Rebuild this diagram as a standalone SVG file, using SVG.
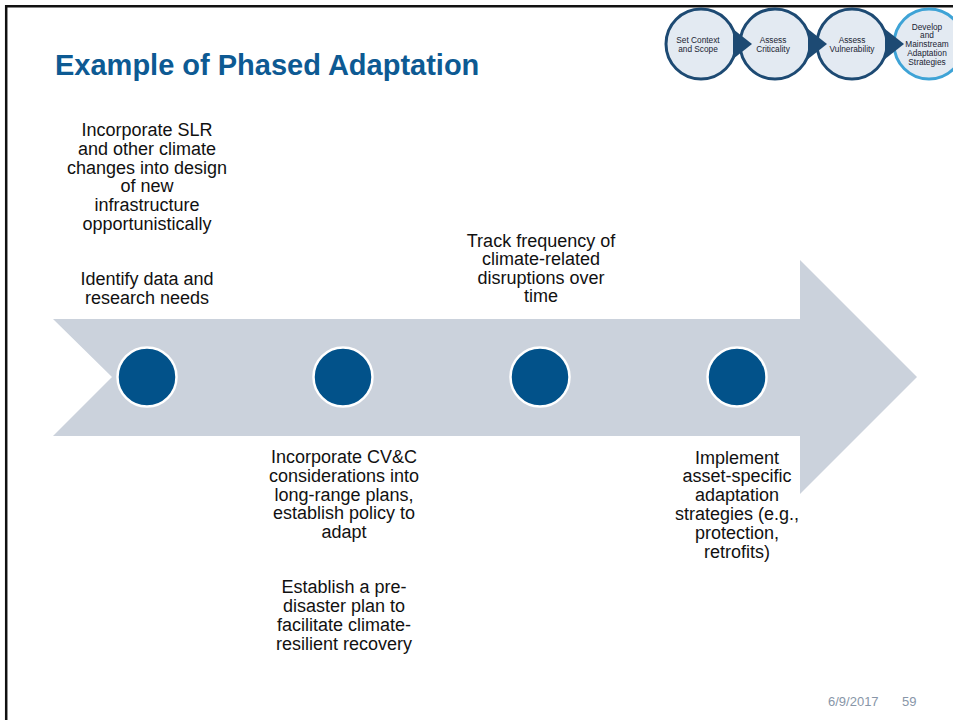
<svg xmlns="http://www.w3.org/2000/svg" width="953" height="720" viewBox="0 0 953 720">
<style>
.body{font-family:"Liberation Sans",Arial,sans-serif;font-size:18px;fill:#111;text-anchor:middle}
.title{font-family:"Liberation Sans",Arial,sans-serif;font-size:29px;font-weight:bold;fill:#0D5A93}
.hc{fill:#E3EAF2;stroke:#1D4A73;stroke-width:3}
.hc4{fill:#E3EAF2;stroke:#3EA3D6;stroke-width:3}
.ht{font-family:"Liberation Sans",Arial,sans-serif;font-size:8.3px;fill:#1a2433;text-anchor:middle}
.dot{fill:#02528A;stroke:#fff;stroke-width:2.5}
.chev{fill:#1D4A73}
.foot{font-family:"Liberation Sans",Arial,sans-serif;font-size:13px;fill:#8896A8}
</style>
<rect x="0" y="0" width="953" height="720" fill="#fff"/>
<path d="M6.2,720 V6.2 H953" fill="none" stroke="#111" stroke-width="2.5"/>
<text class="title" x="55" y="75">Example of Phased Adaptation</text>

<g id="header">
  <g id="step1"><circle class="hc" cx="701" cy="44" r="35"/><text class="ht" x="698" y="43">Set Context</text><text class="ht" x="698" y="51.5">and Scope</text></g>
  <g id="step2"><circle class="hc" cx="775" cy="44" r="35"/><text class="ht" x="773" y="43">Assess</text><text class="ht" x="773" y="51.5">Criticality</text></g>
  <g id="step3"><circle class="hc" cx="852" cy="44" r="35"/><text class="ht" x="852" y="43">Assess</text><text class="ht" x="852" y="51.5">Vulnerability</text></g>
  <g id="step4"><circle class="hc4" cx="929" cy="44" r="35"/><text class="ht" x="927" y="29.5">Develop</text><text class="ht" x="927" y="38.3">and</text><text class="ht" x="927" y="47">Mainstream</text><text class="ht" x="927" y="55.8">Adaptation</text><text class="ht" x="927" y="64.6">Strategies</text></g>
</g>
<g id="connectors">
  <polygon class="chev" points="733,29 752,44 733,59"/>
  <polygon class="chev" points="808,29 827,44 808,59"/>
  <polygon class="chev" points="885,29 904,44 885,59"/>
</g>

<g id="timeline">
  <polygon points="53,319 800,319 800,260 917,377 800,494 800,436 53,436 112,377" fill="#CBD2DC"/>
</g>

<g id="phase1">
  <circle class="dot" cx="147" cy="377" r="29.5"/>
  <text class="body"><tspan x="147" y="136">Incorporate SLR</tspan><tspan x="147" y="154.8">and other climate</tspan><tspan x="147" y="173.6">changes into design</tspan><tspan x="147" y="192.4">of new</tspan><tspan x="147" y="211.2">infrastructure</tspan><tspan x="147" y="230">opportunistically</tspan></text>
  <text class="body"><tspan x="147" y="285">Identify data and</tspan><tspan x="147" y="303.5">research needs</tspan></text>
</g>
<g id="phase2">
  <circle class="dot" cx="343" cy="377" r="29.5"/>
  <text class="body"><tspan x="344" y="463">Incorporate CV&amp;C</tspan><tspan x="344" y="481.8">considerations into</tspan><tspan x="344" y="500.6">long-range plans,</tspan><tspan x="344" y="519.4">establish policy to</tspan><tspan x="344" y="538.2">adapt</tspan></text>
  <text class="body"><tspan x="344" y="592.5">Establish a pre-</tspan><tspan x="344" y="611.5">disaster plan to</tspan><tspan x="344" y="630.5">facilitate climate-</tspan><tspan x="344" y="649.5">resilient recovery</tspan></text>
</g>
<g id="phase3">
  <circle class="dot" cx="540" cy="377" r="29.5"/>
  <text class="body"><tspan x="541" y="246.5">Track frequency of</tspan><tspan x="541" y="265">climate-related</tspan><tspan x="541" y="283.5">disruptions over</tspan><tspan x="541" y="302">time</tspan></text>
</g>
<g id="phase4">
  <circle class="dot" cx="737" cy="377" r="29.5"/>
  <text class="body"><tspan x="737" y="463.5">Implement</tspan><tspan x="737" y="482.3">asset-specific</tspan><tspan x="737" y="501.1">adaptation</tspan><tspan x="737" y="519.9">strategies (e.g.,</tspan><tspan x="737" y="538.7">protection,</tspan><tspan x="737" y="557.5">retrofits)</tspan></text>
</g>

<text class="foot" x="828" y="706">6/9/2017</text>
<text class="foot" x="902" y="706">59</text>
</svg>
